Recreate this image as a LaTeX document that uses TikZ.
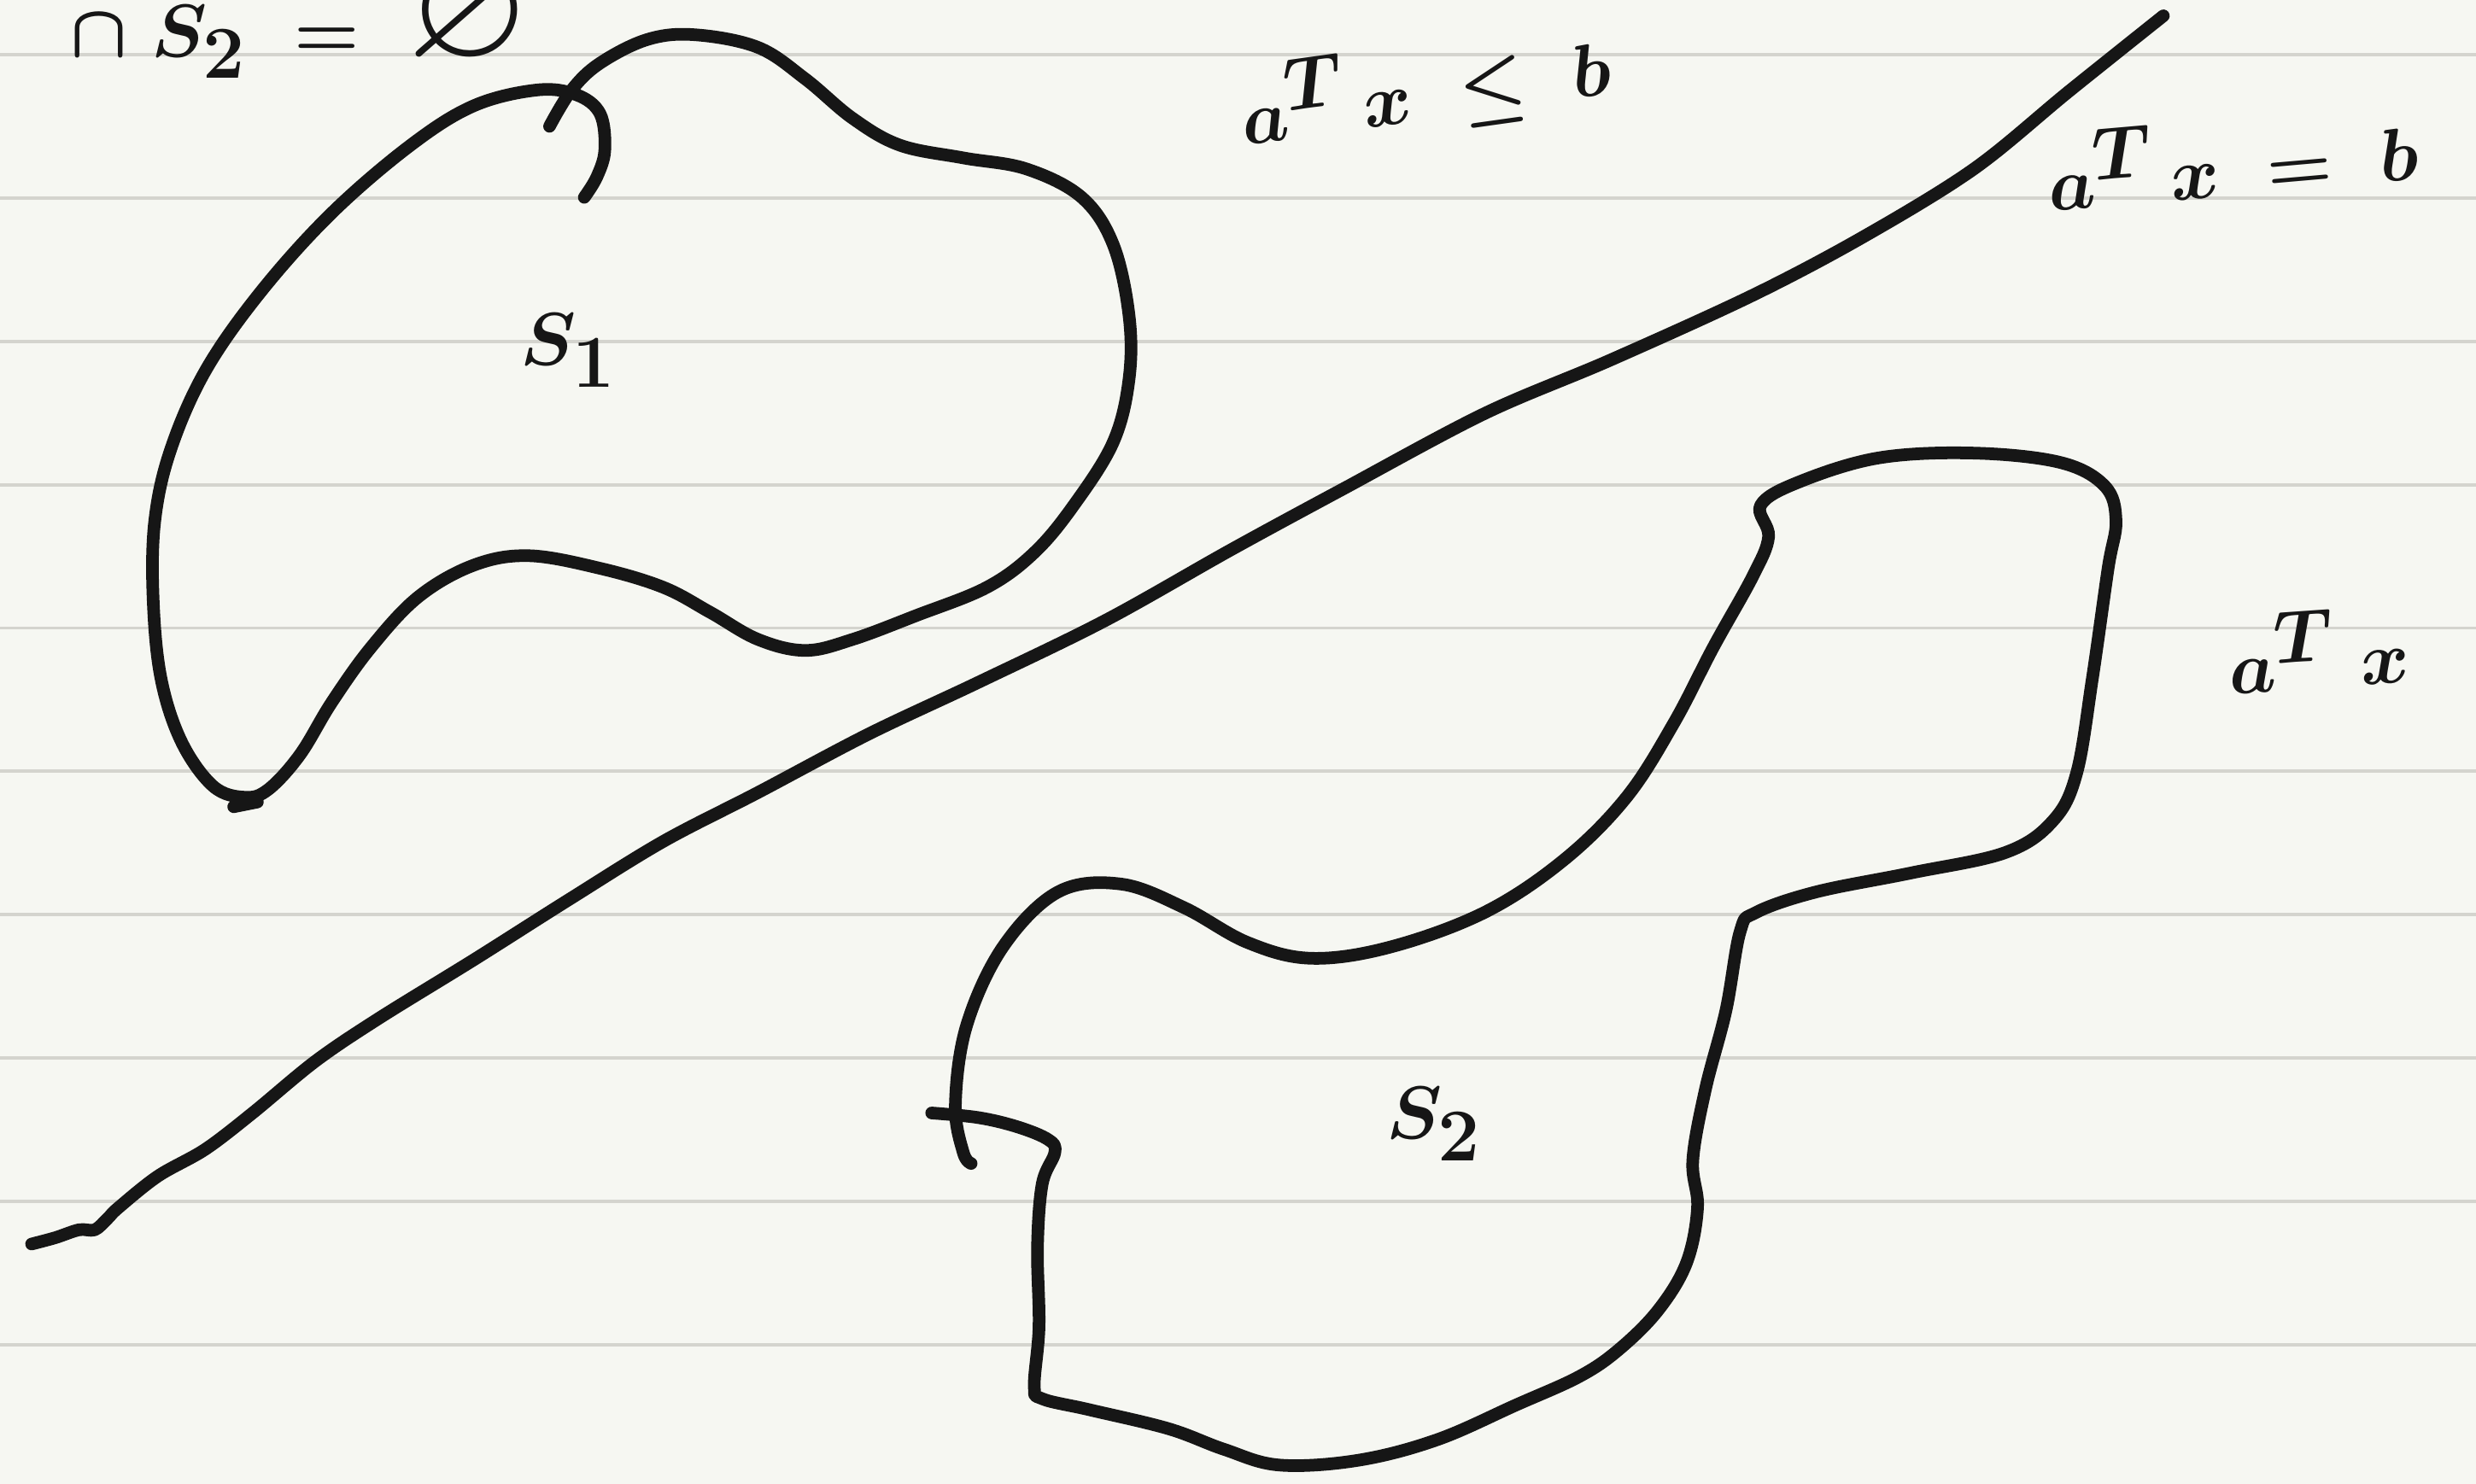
\documentclass[tikz,border=0pt]{standalone}
\usepackage{amssymb}
\definecolor{paper}{HTML}{F6F7F2}
\definecolor{rule}{HTML}{D4D4CE}
\definecolor{ink}{HTML}{161616}
\tikzset{
  ink/.style={draw=ink, line width=4.2pt, line cap=round, line join=round},
  hand/.style={text=ink, inner sep=0pt, font=\fontsize{54}{60}\selectfont\boldmath},
  handbig/.style={text=ink, inner sep=0pt, font=\fontsize{60}{66}\selectfont\boldmath},
}
\begin{document}
\begin{tikzpicture}[x=0.01849cm, y=-0.01849cm]
\useasboundingbox (0,0) rectangle (1568,940);
\clip (0,0) rectangle (1568,940);
\fill[paper] (0,0) rectangle (1568,940);
\foreach \k in {0,...,9} {
  \draw[rule, line width=1.1pt] (0,{34.6+90.8*\k}) -- (1568,{34.6+90.8*\k});
}
% hyperplane
\draw[ink] plot[smooth, tension=0.55] coordinates {
 (20,788) (35,784) (50,779) (60,779) (68,772) (75,765) (100,745) (130,728)
 (160,705) (200,672) (240,645) (300,608) (360,570) (420,533) (480,502)
 (550,465) (620,432) (700,393) (780,348) (850,310) (940,262) (1020,228)
 (1110,187) (1180,150) (1250,107) (1310,58) (1370,10)};
% S1
\draw[ink] plot[smooth, tension=0.6] coordinates {
 (348,80) (362,57) (380,40) (410,25) (440,22) (480,30) (510,50) (540,75)
 (570,92) (610,100) (650,107) (685,125) (705,155) (715,200) (715,240)
 (705,280) (680,320) (655,350) (625,372) (580,390) (540,405) (510,412)
 (480,405) (450,388) (420,372) (380,360) (335,352) (300,358) (265,378)
 (235,410) (210,445) (190,478) (170,500) (155,505) (135,498) (115,470)
 (102,430) (97,380) (98,330) (108,285) (130,235) (165,185) (210,135)
 (260,92) (300,67) (340,57) (365,60) (380,72) (383,95) (378,112) (370,125)};
\draw[ink] (148,511) -- (163,508);
% S2
\draw[ink] plot[smooth, tension=0.6] coordinates {
 (590,705) (620,708) (645,714) (664,722) (668,730) (660,750) (657,790)
 (658,840) (655,878) (660,886) (690,893) (740,905) (775,918) (810,928)
 (860,925) (910,912) (960,890) (1000,872) (1025,855) (1050,830) (1068,800)
 (1075,765) (1072,735) (1080,690) (1093,640) (1102,590) (1112,578)
 (1150,565) (1210,553) (1270,540) (1300,520) (1315,490) (1325,430)
 (1335,360) (1340,330) (1333,308) (1305,293) (1250,287) (1190,290)
 (1140,305) (1115,320) (1120,340) (1110,365) (1085,410) (1060,458)
 (1030,505) (990,545) (940,578) (880,600) (830,607) (790,597) (750,575)
 (710,560) (670,565) (635,600) (612,650) (605,700) (610,730) (615,737)};
% labels
\node[hand, anchor=base west] (inter) at (44,36) {$\cap\; S_2 \;=\; \varnothing$};
\node[hand, anchor=base west, rotate=8] (halfle) at (788,92) {$a^{T}\,x \;\le\; b$};
\node[hand, anchor=base west, rotate=5] (plane) at (1298,134) {$a^{T}\,x \;=\; b$};
\node[hand, anchor=base west, rotate=4] (halfge) at (1412,440) {$a^{T}\;x$};
\node[handbig] (s1) at (360,222) {$S_1$};
\node[handbig] (s2) at (908,712) {$S_2$};
\end{tikzpicture}
\end{document}
